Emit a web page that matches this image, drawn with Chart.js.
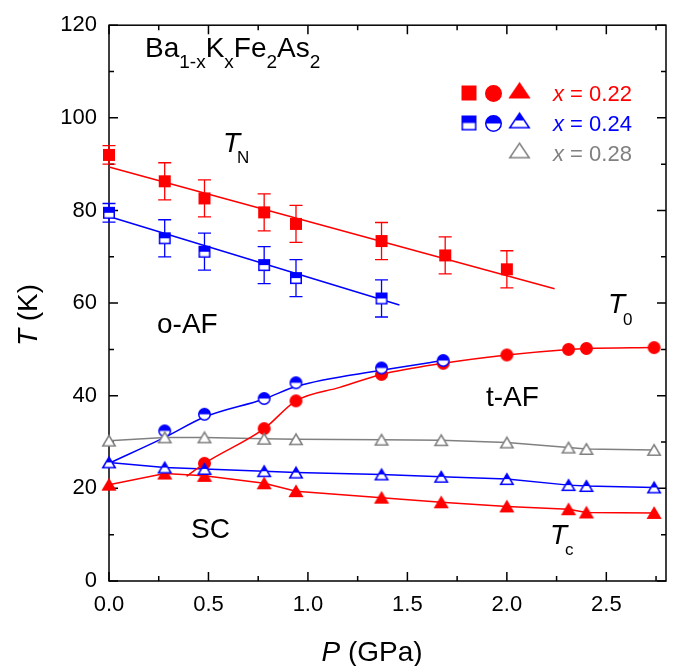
<!DOCTYPE html>
<html>
<head>
<meta charset="utf-8">
<script src="https://cdn.jsdelivr.net/npm/chart.js@4.4.1/dist/chart.umd.min.js"></script>
<style>
  html, body { margin: 0; padding: 0; background: #fff; }
  canvas { display: block; }
</style>
</head>
<body>
<canvas id="phaseChart" width="677" height="666"></canvas>
<script>
// T_N (squares) with error bars
const pTN22 = [0, 0.28, 0.48, 0.78, 0.94, 1.37, 1.69, 2.0];
const tTN22 = [92.0, 86.3, 82.6, 79.6, 77.1, 73.4, 70.3, 67.3];
const errTN22 = [2, 4, 4, 4, 4, 4, 4, 4];
const pTN24 = [0, 0.28, 0.48, 0.78, 0.94, 1.37];
const tTN24 = [79.5, 74.0, 71.1, 68.2, 65.4, 61.0];
const errTN24 = [2, 4, 4, 4, 4, 4];

// straight guide lines through T_N
const pFitTN22 = [0, 2.24];
const tFitTN22 = [89.4, 63.1];
const pFitTN24 = [0, 1.46];
const tFitTN24 = [78.7, 59.6];

// T_0 (circles)
const pT022 = [0.48, 0.78, 0.94, 1.37, 1.68, 2.0, 2.31, 2.40, 2.74];
const tT022 = [25.4, 32.9, 38.9, 44.6, 47.0, 48.8, 50.0, 50.2, 50.4];
const pT024 = [0.28, 0.48, 0.78, 0.94, 1.37, 1.68];
const tT024 = [32.4, 36.0, 39.4, 42.8, 46.0, 47.6];

// guide curves through T_0
const pCurveT022 = [0.39, 0.48, 0.78, 0.94, 1.16, 1.37, 1.68, 2.0, 2.31, 2.40, 2.74];
const tCurveT022 = [22.6, 25.4, 32.9, 38.9, 41.8, 44.6, 47.0, 48.8, 50.0, 50.2, 50.4];
const pCurveT024 = [0, 0.28, 0.48, 0.78, 0.94, 1.37, 1.68];
const tCurveT024 = [25.4, 31.0, 35.4, 39.3, 42.0, 45.5, 47.6];

// T_c (triangles)
const pTc = [0, 0.28, 0.48, 0.78, 0.94, 1.37, 1.67, 2.0, 2.31, 2.40, 2.74];
const tTc22 = [20.8, 23.2, 22.7, 21.1, 19.4, 18.0, 17.0, 16.1, 15.5, 14.8, 14.7];
const tTc24 = [25.6, 24.5, 24.2, 23.7, 23.4, 23.0, 22.5, 22.0, 20.7, 20.5, 20.2];
const tTc28 = [30.3, 31.0, 31.0, 30.7, 30.6, 30.5, 30.4, 29.9, 28.8, 28.5, 28.3];

const xTicks = [0, 0.5, 1.0, 1.5, 2.0, 2.5];
const yTicks = [0, 20, 40, 60, 80, 100, 120];

const RED = '#ff0000';
const BLUE = '#0000ff';
const GRAY = '#808080';
const FONT = '"Liberation Sans", Arial, sans-serif';

const pts = (xs, ys) => xs.map((x, i) => ({ x: x, y: ys[i] }));

// marker images: full / half (top filled) / open
function marker(shape, color, mode, w, h) {
  const pad = 2;
  const c = document.createElement('canvas');
  c.width = w + pad * 2;
  c.height = h + pad * 2;
  const g = c.getContext('2d');
  g.translate(pad, pad);
  const path = new Path2D();
  if (shape === 'square') {
    path.rect(0.75, 0.75, w - 1.5, h - 1.5);
  } else if (shape === 'circle') {
    path.arc(w / 2, h / 2, w / 2 - 0.75, 0, Math.PI * 2);
  } else {
    path.moveTo(w / 2, 0.75);
    path.lineTo(w - 0.75, h - 0.75);
    path.lineTo(0.75, h - 0.75);
    path.closePath();
  }
  g.fillStyle = mode === 'full' ? color : '#fff';
  g.fill(path);
  if (mode === 'half') {
    g.save();
    g.clip(path);
    g.fillStyle = color;
    g.fillRect(0, 0, w, h / 2);
    g.restore();
  }
  g.lineWidth = 1.5;
  g.strokeStyle = color;
  g.stroke(path);
  return c;
}

const mk = {
  sq22: marker('square', RED, 'full', 12, 12),
  sq24: marker('square', BLUE, 'half', 12, 12),
  ci22: marker('circle', RED, 'full', 13, 13),
  ci24: marker('circle', BLUE, 'half', 13, 13),
  tr22: marker('triangle', RED, 'full', 14, 12),
  tr24: marker('triangle', BLUE, 'half', 14, 12),
  tr28: marker('triangle', GRAY, 'open', 14, 12)
};
const lg = {
  sq22: marker('square', RED, 'full', 15, 15),
  sq24: marker('square', BLUE, 'half', 15, 15),
  ci22: marker('circle', RED, 'full', 17, 17),
  ci24: marker('circle', BLUE, 'half', 17, 17),
  tr22: marker('triangle', RED, 'full', 21, 16),
  tr24: marker('triangle', BLUE, 'half', 21, 16),
  tr28: marker('triangle', GRAY, 'open', 21, 16)
};

function lineSet(xs, ys, color, smooth) {
  return {
    data: pts(xs, ys), showLine: true, borderColor: color, borderWidth: 1.5,
    pointRadius: 0, pointHoverRadius: 0, clip: false, order: 10,
    tension: smooth ? 0.4 : 0, cubicInterpolationMode: smooth ? 'monotone' : 'default'
  };
}
function markSet(xs, ys, img, errs, errColor) {
  return {
    data: pts(xs, ys), showLine: false, pointStyle: img, pointRadius: 6,
    pointHoverRadius: 6, clip: false, order: 0, errorBars: errs, errorColor: errColor
  };
}

// rich text run: parts [text, size, italic, dy, dx]
function run(ctx, x, y, parts, color, measureOnly) {
  let cx = x;
  parts.forEach(p => {
    ctx.font = (p[2] ? 'italic ' : '') + p[1] + 'px ' + FONT;
    cx += p[4] || 0;
    if (!measureOnly) {
      ctx.fillStyle = color;
      ctx.fillText(p[0], cx, y + (p[3] || 0));
    }
    cx += ctx.measureText(p[0]).width;
  });
  return cx - x;
}

const framePlugin = {
  id: 'frame',
  beforeDatasetsDraw(chart) {
    const { ctx, chartArea: a, scales } = chart;
    ctx.save();
    ctx.strokeStyle = '#000';
    ctx.lineWidth = 1.5;
    ctx.strokeRect(a.left, a.top, a.right - a.left, a.bottom - a.top);
    for (let v = 0; v <= 2.8 + 1e-9; v += 0.25) {
      const x = scales.x.getPixelForValue(v);
      const len = Math.abs(v * 2 - Math.round(v * 2)) < 1e-6 ? 9 : 5;
      ctx.beginPath();
      ctx.moveTo(x, a.bottom); ctx.lineTo(x, a.bottom - len);
      ctx.moveTo(x, a.top); ctx.lineTo(x, a.top + len);
      ctx.stroke();
    }
    for (let v = 0; v <= 120; v += 10) {
      const y = scales.y.getPixelForValue(v);
      const len = v % 20 === 0 ? 9 : 5;
      ctx.beginPath();
      ctx.moveTo(a.left, y); ctx.lineTo(a.left + len, y);
      ctx.moveTo(a.right, y); ctx.lineTo(a.right - len, y);
      ctx.stroke();
    }
    // error bars
    chart.data.datasets.forEach(ds => {
      if (!ds.errorBars) return;
      ctx.strokeStyle = ds.errorColor;
      ctx.lineWidth = 1.3;
      ds.data.forEach((d, i) => {
        const x = scales.x.getPixelForValue(d.x);
        const y1 = scales.y.getPixelForValue(d.y + ds.errorBars[i]);
        const y2 = scales.y.getPixelForValue(d.y - ds.errorBars[i]);
        ctx.beginPath();
        ctx.moveTo(x, y1); ctx.lineTo(x, y2);
        ctx.moveTo(x - 6.5, y1); ctx.lineTo(x + 6.5, y1);
        ctx.moveTo(x - 6.5, y2); ctx.lineTo(x + 6.5, y2);
        ctx.stroke();
      });
    });
    ctx.restore();
  }
};

const textPlugin = {
  id: 'texts',
  afterDraw(chart) {
    const ctx = chart.ctx;
    ctx.save();
    ctx.textBaseline = 'alphabetic';
    ctx.textAlign = 'left';
    const K = '#000';
    // axis titles
    const xt = [['P', 28, true], [' (GPa)', 28, false]];
    const wx = run(ctx, 0, 0, xt, K, true);
    run(ctx, 372 - wx / 2, 661, xt, K);
    ctx.save();
    ctx.translate(37, 315);
    ctx.rotate(-Math.PI / 2);
    const yt = [['T', 28, true], [' (K)', 28, false]];
    const wy = run(ctx, 0, 0, yt, K, true);
    run(ctx, -wy / 2, 0, yt, K);
    ctx.restore();

    // compound name
    run(ctx, 145, 57, [
      ['Ba', 28], ['1-x', 19, false, 11], ['K', 28], ['x', 19, false, 11],
      ['Fe', 28], ['2', 19, false, 11], ['As', 28], ['2', 19, false, 11]
    ], K);
    // labels
    run(ctx, 223, 152, [['T', 28, true], ['N', 17, false, 11, -3]], K);
    run(ctx, 608, 313, [['T', 28, true], ['0', 17, false, 12, -2]], K);
    run(ctx, 550, 544, [['T', 28, true], ['c', 17, false, 11, -2]], K);
    run(ctx, 157, 333, [['o-AF', 28]], K);
    run(ctx, 486, 406, [['t-AF', 28]], K);
    run(ctx, 191, 538, [['SC', 28]], K);

    // legend
    const rows = [
      [[lg.sq22, lg.ci22, lg.tr22], RED, '0.22'],
      [[lg.sq24, lg.ci24, lg.tr24], BLUE, '0.24'],
      [[null, null, lg.tr28], GRAY, '0.28']
    ];
    const mx = [469, 493.5, 519.5];
    const my = [0, 0.5, -2.5];
    rows.forEach((r, i) => {
      const yc = 93 + i * 30;
      r[0].forEach((img, j) => {
        if (img) ctx.drawImage(img, mx[j] - img.width / 2, yc + my[j] - img.height / 2);
      });
      run(ctx, 553, yc + 7.5, [['x', 22, true], [' = ' + r[2], 22, false]], r[1]);
    });
    ctx.restore();
  }
};

new Chart(document.getElementById('phaseChart'), {
  type: 'scatter',
  data: {
    datasets: [
      lineSet(pFitTN22, tFitTN22, RED, false),
      lineSet(pFitTN24, tFitTN24, BLUE, false),
      lineSet(pCurveT022, tCurveT022, RED, true),
      lineSet(pCurveT024, tCurveT024, BLUE, true),
      lineSet(pTc, tTc28, GRAY, false),
      lineSet(pTc, tTc24, BLUE, false),
      lineSet(pTc, tTc22, RED, false),
      markSet(pTc, tTc28, mk.tr28),
      markSet(pTc, tTc24, mk.tr24),
      markSet(pTc, tTc22, mk.tr22),
      markSet(pT024, tT024, mk.ci24),
      markSet(pT022, tT022, mk.ci22),
      markSet(pTN24, tTN24, mk.sq24, errTN24, BLUE),
      markSet(pTN22, tTN22, mk.sq22, errTN22, RED)
    ]
  },
  options: {
    responsive: false,
    animation: false,
    devicePixelRatio: 1,
    layout: { padding: { left: 0, top: 15, right: 11, bottom: 0 } },
    plugins: { legend: { display: false }, tooltip: { enabled: false } },
    scales: {
      x: {
        type: 'linear', min: 0, max: 2.8,
        grid: { display: false, drawTicks: false },
        border: { display: false },
        afterFit: s => { s.height = 85; },
        afterBuildTicks: s => { s.ticks = xTicks.map(v => ({ value: v })); },
        ticks: {
          padding: 11, color: '#000', font: { family: FONT, size: 22 },
          maxRotation: 0, callback: v => v.toFixed(1)
        }
      },
      y: {
        type: 'linear', min: 0, max: 120,
        grid: { display: false, drawTicks: false },
        border: { display: false },
        afterFit: s => { s.width = 109; },
        afterBuildTicks: s => { s.ticks = yTicks.map(v => ({ value: v })); },
        ticks: { padding: 12, color: '#000', font: { family: FONT, size: 22 } }
      }
    }
  },
  plugins: [framePlugin, textPlugin]
});
</script>
</body>
</html>
